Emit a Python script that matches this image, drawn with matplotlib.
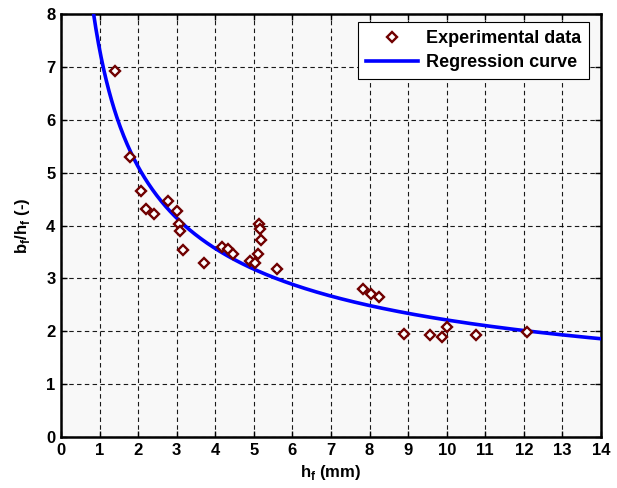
import numpy as np
import matplotlib
matplotlib.use("Agg")
import matplotlib.pyplot as plt

# Experimental data (h_f in mm, b_f/h_f)
h_f = [1.41, 1.80, 2.08, 2.21, 2.41, 2.77, 3.00, 3.07, 3.08, 3.15, 3.70,
       4.18, 4.34, 4.47, 4.90, 5.04, 5.11, 5.14, 5.16, 5.18, 5.60,
       7.82, 8.04, 8.25, 8.89, 9.56, 9.89, 10.01, 10.75, 12.07]
ratio = [6.93, 5.29, 4.65, 4.31, 4.22, 4.46, 4.27, 4.02, 3.89, 3.53, 3.30,
         3.60, 3.56, 3.47, 3.33, 3.30, 3.47, 4.03, 3.93, 3.72, 3.17,
         2.80, 2.71, 2.65, 1.95, 1.93, 1.90, 2.08, 1.93, 1.98]

# Regression curve parameters: y = a * x^b
reg_a = 7.33
reg_b = -0.52

x_ticks = list(range(0, 15))
y_ticks = list(range(0, 9))

plt.rcParams['font.family'] = ['Liberation Sans', 'DejaVu Sans']
plt.rcParams['font.weight'] = 'bold'
plt.rcParams['mathtext.fontset'] = 'custom'
plt.rcParams['mathtext.rm'] = 'Liberation Sans:bold'

fs = 12
lfs = 13

fig = plt.figure(figsize=(6.17, 4.88), dpi=100)
ax = fig.add_axes([61/617, 51/488, 540/617, 423/488])
ax.set_facecolor('#f8f8f8')

xc = np.linspace(0.5, 14, 600)
ax.plot(xc, reg_a * xc ** reg_b, color='#0000ff', lw=2.6, label='Regression curve', zorder=3)
ax.plot(h_f, ratio, linestyle='none', marker='D', markersize=5,
        markerfacecolor='white', markeredgecolor='#700000', markeredgewidth=1.7,
        label='Experimental data', zorder=4)

ax.set_xlim(0, 14)
ax.set_ylim(0, 8)
ax.set_xticks(x_ticks)
ax.set_yticks(y_ticks)
ax.grid(True, color='black', linestyle=(0, (4, 3)), linewidth=0.8, alpha=0.9)
ax.set_axisbelow(True)
ax.tick_params(direction='in', length=4, width=1, top=True, right=True,
               labelsize=fs)
ax.tick_params(axis='x', pad=4)
ax.tick_params(axis='y', pad=4)
for lab in ax.get_xticklabels() + ax.get_yticklabels():
    lab.set_fontweight('bold')
for s in ax.spines.values():
    s.set_linewidth(1.8)

ax.set_xlabel(r'h$_\mathregular{f}$ (mm)', fontsize=fs, fontweight='bold', labelpad=4)
ax.set_ylabel(r'b$_\mathregular{f}$/h$_\mathregular{f}$ (-)', fontsize=fs, fontweight='bold', labelpad=10)

handles, labels = ax.get_legend_handles_labels()
leg = ax.legend(handles[::-1], labels[::-1], loc='upper right', fontsize=lfs,
                frameon=True, fancybox=False, edgecolor='black', framealpha=1,
                bbox_to_anchor=(589/617, 466/488), bbox_transform=fig.transFigure,
                borderaxespad=0, handlelength=2.9, handletextpad=0.4,
                borderpad=0.45, labelspacing=0.4)
leg.get_frame().set_linewidth(0.8)
for t in leg.get_texts():
    t.set_fontweight('bold')

fig.savefig('out.png', dpi=100)
